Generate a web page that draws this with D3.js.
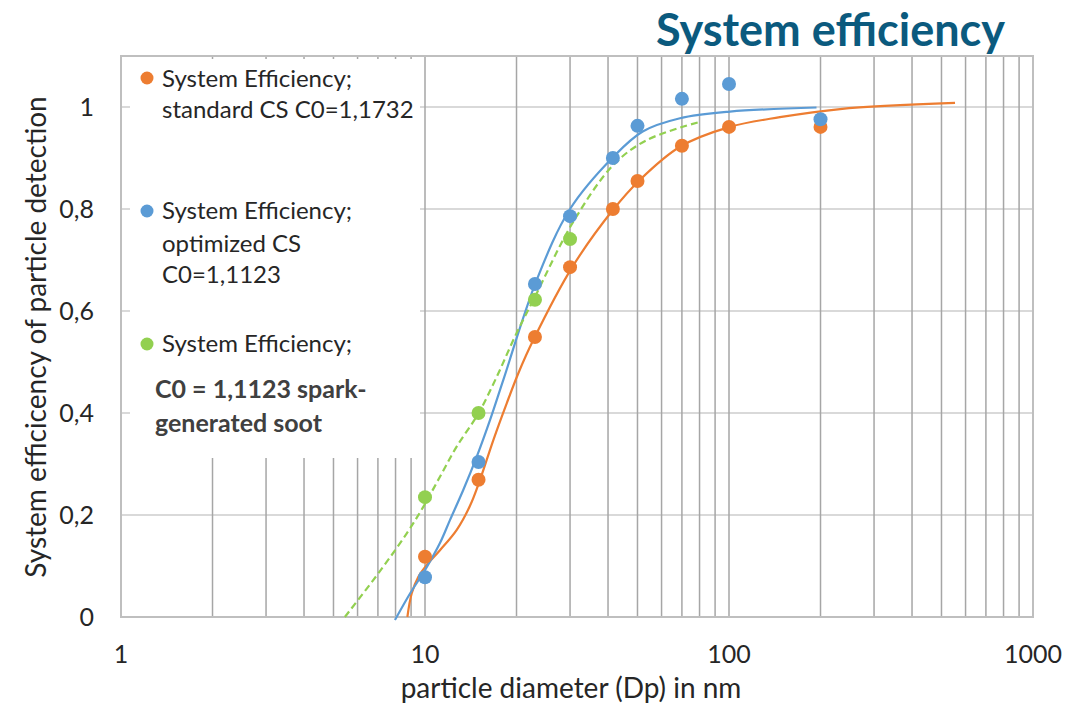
<!DOCTYPE html>
<head>
    <meta charset="utf-8">
    <script src="https://d3js.org/d3.v7.min.js"></script>
    <style>
        body { margin: 0; background: #fff; }
        text { font-family: Lato, "Open Sans", sans-serif; }
    </style>
</head>
<body>
    <div id="container"></div>
    <script>
    // measured points (diameter in nm, efficiency)
    var diameters = [10, 15, 23, 30, 41.5, 50, 70, 100, 200];
    var standardEff = [0.118, 0.269, 0.549, 0.686, 0.80, 0.855, 0.924, 0.961, 0.961];
    var optimizedEff = [0.078, 0.304, 0.653, 0.786, 0.90, 0.963, 1.016, 1.045, 0.976];
    var sootDiameters = [10, 15, 23, 30];
    var sootEff = [0.235, 0.40, 0.622, 0.741];

    // fitted curves
    var standardFitX = [8.75, 9.04, 9.51, 10.13, 11.2, 12.72, 14.06, 15.17, 16.78, 18.57, 20.28, 22.71, 30.5, 41.5, 50.9, 69, 100.7, 147, 232, 554];
    var standardFitY = [0, 0.046, 0.079, 0.102, 0.131, 0.171, 0.218, 0.269, 0.347, 0.419, 0.478, 0.543, 0.686, 0.798, 0.857, 0.922, 0.961, 0.980, 0.996, 1.008];
    var optimizedFitX = [7.965, 8.93, 10, 11.2, 12.08, 13.36, 14.79, 16.36, 18.1, 23.31, 30, 41.6, 52, 69, 100.7, 194];
    var optimizedFitY = [-0.006, 0.046, 0.092, 0.145, 0.19, 0.249, 0.314, 0.386, 0.465, 0.661, 0.80, 0.902, 0.952, 0.978, 0.991, 0.999];
    var sootFitX = [5.45, 7.11, 8.71, 9.87, 11.2, 12.71, 14.98, 17.22, 19.77, 23.31, 30.4, 41.6, 53.6, 80.3];
    var sootFitY = [0, 0.09, 0.164, 0.216, 0.275, 0.334, 0.399, 0.471, 0.55, 0.635, 0.77, 0.886, 0.935, 0.971];

    var xTicks = [1, 10, 100, 1000];
    var yTicks = [0, 0.2, 0.4, 0.6, 0.8, 1];

    var width = 1082, height = 709;
    var svg = d3.select("#container").append("svg")
        .attr("width", width)
        .attr("height", height);

    var x = d3.scaleLog().domain([1, 1000]).range([121, 1033]);
    var y = d3.scaleLinear().domain([0, 1.1]).range([617, 56]);

    // minor + major vertical grid
    var vGrid = [];
    for (var d = 1; d <= 1000; d *= 10) {
        for (var m = 1; m < 10; m++) {
            if (d * m <= 1000) vGrid.push(d * m);
        }
    }
    vGrid.push(1000);

    svg.append("g").selectAll("line")
        .data(yTicks.slice(1))
        .enter().append("line")
        .attr("x1", x(1)).attr("x2", x(1000))
        .attr("y1", function (v) { return y(v); })
        .attr("y2", function (v) { return y(v); })
        .attr("stroke", "#d9d9d9")
        .attr("stroke-width", 2);

    svg.append("g").selectAll("line")
        .data(vGrid)
        .enter().append("line")
        .attr("x1", function (v) { return x(v); })
        .attr("x2", function (v) { return x(v); })
        .attr("y1", y(1.1)).attr("y2", y(0))
        .attr("stroke", "#a6a6a6")
        .attr("stroke-width", 1.5);

    // plot frame
    svg.append("rect")
        .attr("x", x(1)).attr("y", y(1.1))
        .attr("width", x(1000) - x(1))
        .attr("height", y(0) - y(1.1))
        .attr("fill", "none")
        .attr("stroke", "#bfbfbf")
        .attr("stroke-width", 2);

    // legend box hides the grid behind it
    svg.append("rect")
        .attr("x", 130).attr("y", 59)
        .attr("width", 290).attr("height", 399)
        .attr("fill", "#fff");

    // axis tick labels
    svg.append("g").selectAll("text")
        .data(xTicks)
        .enter().append("text")
        .attr("x", function (v) { return x(v); })
        .attr("y", 663)
        .attr("text-anchor", "middle")
        .attr("font-size", 25)
        .attr("fill", "#262626")
        .text(function (v) { return v; });

    svg.append("g").selectAll("text")
        .data(yTicks)
        .enter().append("text")
        .attr("x", 94)
        .attr("y", function (v) { return y(v) + 9; })
        .attr("text-anchor", "end")
        .attr("font-size", 25)
        .attr("fill", "#262626")
        .text(function (v) { return String(v).replace(".", ","); });

    svg.append("text")
        .attr("x", 571).attr("y", 698)
        .attr("text-anchor", "middle")
        .attr("font-size", 28)
        .attr("fill", "#262626")
        .text("particle diameter (Dp) in nm");

    svg.append("text")
        .attr("transform", "translate(46,337) rotate(-90)")
        .attr("text-anchor", "middle")
        .attr("font-size", 28)
        .attr("fill", "#262626")
        .text("System efficicency of particle detection");

    svg.append("text")
        .attr("x", 1005).attr("y", 46)
        .attr("text-anchor", "end")
        .attr("font-size", 45)
        .attr("font-weight", "bold")
        .attr("fill", "#0b5a7e")
        .text("System efficiency");

    // fitted curves
    var line = d3.line()
        .x(function (p) { return x(p[0]); })
        .y(function (p) { return y(p[1]); })
        .curve(d3.curveCatmullRom.alpha(0.5));

    function drawFit(xs, ys, color, dash) {
        svg.append("path")
            .datum(d3.zip(xs, ys))
            .attr("d", line)
            .attr("fill", "none")
            .attr("stroke", color)
            .attr("stroke-width", 2.2)
            .attr("stroke-dasharray", dash);
    }
    drawFit(standardFitX, standardFitY, "#ed7d31", null);
    drawFit(optimizedFitX, optimizedFitY, "#5b9bd5", null);
    drawFit(sootFitX, sootFitY, "#92d050", "7,4");

    function drawPoints(xs, ys, color) {
        svg.append("g").selectAll("circle")
            .data(d3.zip(xs, ys))
            .enter().append("circle")
            .attr("cx", function (p) { return x(p[0]); })
            .attr("cy", function (p) { return y(p[1]); })
            .attr("r", 7)
            .attr("fill", color);
    }
    drawPoints(diameters, standardEff, "#ed7d31");
    drawPoints(diameters, optimizedEff, "#5b9bd5");
    drawPoints(sootDiameters, sootEff, "#92d050");

    // legend
    var legend = [
        { color: "#ed7d31", cy: 78, lines: [["System Efficiency;", 87], ["standard CS C0=1,1732", 118]] },
        { color: "#5b9bd5", cy: 211, lines: [["System Efficiency;", 219], ["optimized CS", 252], ["C0=1,1123", 283]] },
        { color: "#92d050", cy: 344, lines: [["System Efficiency;", 352]] }
    ];
    legend.forEach(function (item) {
        svg.append("circle")
            .attr("cx", 147).attr("cy", item.cy)
            .attr("r", 6.5)
            .attr("fill", item.color);
        item.lines.forEach(function (l) {
            svg.append("text")
                .attr("x", 162).attr("y", l[1])
                .attr("font-size", 24)
                .attr("fill", "#262626")
                .text(l[0]);
        });
    });
    [["C0 = 1,1123 spark-", 398], ["generated soot", 432]].forEach(function (l) {
        svg.append("text")
            .attr("x", 155).attr("y", l[1])
            .attr("font-size", 25)
            .attr("font-weight", "bold")
            .attr("fill", "#404040")
            .text(l[0]);
    });
    </script>
</body>
